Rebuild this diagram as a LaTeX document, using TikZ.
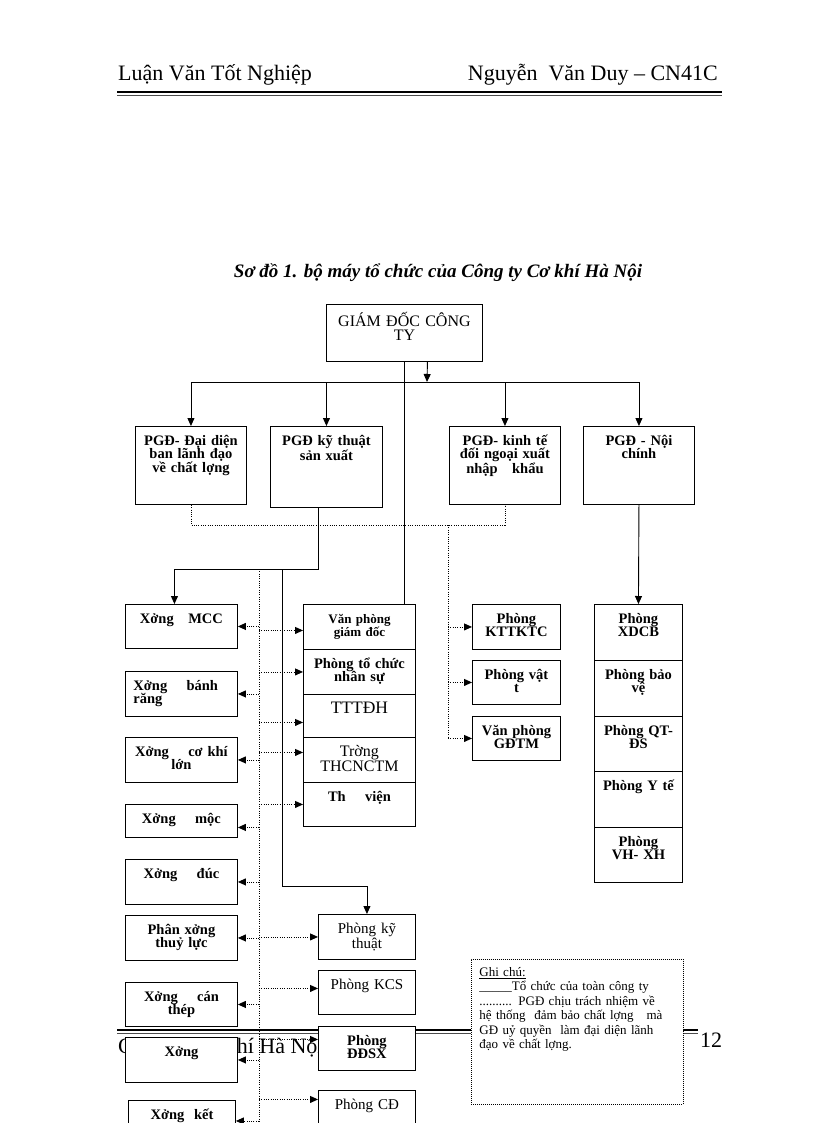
\documentclass[tikz,border=0pt]{standalone}
\usepackage{fontspec}
\setmainfont{Liberation Serif}
\usetikzlibrary{arrows.meta}

\newcommand{\cellfont}{\bfseries\fontsize{14.5}{13.5}\selectfont}
\newcommand{\plainfont}{\fontsize{15}{13.5}\selectfont}
\newcommand{\pagefont}{\fontsize{22}{24}\selectfont}
\newcommand{\notefont}{\fontsize{13}{14.4}\selectfont}

\tikzset{
  cell/.style 2 args={draw, line width=0.9pt, fill=white, anchor=north west, inner xsep=2pt, inner ysep=0pt,
    align=center, text height=19pt, text width=#1, text depth=#2, font=\cellfont},
  note/.style={draw, line width=0.8pt, dash pattern=on 1pt off 1pt, fill=white, anchor=north west,
    inner xsep=8pt, inner ysep=0pt, align=left, text width=196pt, text height=17pt, text depth=128pt, font=\notefont},
  link/.style={line width=0.9pt},
  dots/.style={line width=0.9pt, dash pattern=on 1pt off 1.3pt},
  tip/.style={-{Triangle[length=8pt,width=7pt]}},
}

\begin{document}
\begin{tikzpicture}[x=1pt, y=-1pt]
  \useasboundingbox (0,0) rectangle (816,1123);
  \clip (0,0) rectangle (816,1123);

  % header and footer of the page
  \node[anchor=base west, font=\pagefont, inner sep=0pt] (headl) at (118,81) {Luận Văn Tốt Nghiệp};
  \node[anchor=base east, font=\pagefont, inner sep=0pt] (headr) at (718,81) {Nguyễn~ Văn Duy – CN41C};
  \draw[line width=2.6pt] (117,92) -- (722,92);
  \draw[line width=0.8pt, black!70] (117,95.6) -- (722,95.6);
  \node[anchor=base west, font=\pagefont, inner sep=0pt] (foot) at (118,1053) {Công ty Cơ khí Hà Nội};
  \node[anchor=base west, font=\pagefont, inner sep=0pt] (pageno) at (700,1047) {12};
  \draw[line width=2.6pt] (117,1030) -- (698,1030);
  \draw[line width=0.8pt, black!70] (117,1033.6) -- (698,1033.6);

  \node[anchor=base, font=\bfseries\itshape\fontsize{19}{21}\selectfont, inner sep=0pt] (title) at (438,277)
    {Sơ đồ 1. bộ máy tổ chức của Công ty Cơ khí Hà Nội};

  \node[cell={152pt}{35pt}, font=\fontsize{16}{14}\selectfont, text height=22pt] (gd) at (326,304) {GIÁM ĐỐC CÔNG\\TY};

  \node[cell={107pt}{59pt}] (pgd1) at (135,426) {PGĐ- Đại diện\\ban lãnh đạo\\về chất lợng};
  \node[cell={108pt}{62pt}] (pgd2) at (270,426) {PGĐ kỹ thuật\\sản xuất};
  \node[cell={107pt}{59pt}] (pgd3) at (449,426) {PGĐ- kinh tế\\đối ngoại xuất\\nhập~~ khẩu};
  \node[cell={107pt}{59pt}] (pgd4) at (583,426) {PGĐ - Nội\\chính};

  \node[cell={108pt}{25pt}] (xmcc) at (125,604) {Xởng~~ MCC};
  \node[cell={96pt}{26pt}, align=left, inner xsep=8pt] (xbr) at (125,671) {Xởng~~~ bánh\\răng};
  \node[cell={108pt}{26pt}] (xck) at (125,737) {Xởng~~~ cơ khí\\lớn};
  \node[cell={108pt}{14pt}] (xmoc) at (125,804) {Xởng~~~ mộc};
  \node[cell={108pt}{26pt}] (xduc) at (125,859) {Xởng~~~ đúc};
  \node[cell={108pt}{26pt}] (xtl) at (125,915) {Phân xởng\\thuỷ lực};
  \node[cell={108pt}{25pt}] (xct) at (125,982) {Xởng~~~ cán\\thép};
  \node[cell={108pt}{26pt}] (xx) at (125,1037) {Xởng};
  \node[cell={103pt}{26pt}] (xket) at (128,1100) {Xởng~ kết};

  \node[cell={108pt}{26pt}, font=\bfseries\fontsize{13}{13}\selectfont] (vpgd) at (303,604) {Văn phòng\\giám đốc};
  \node[cell={108pt}{26pt}] (tcns) at (303,649) {Phòng tổ chức\\nhân sự};
  \node[cell={108pt}{24pt}, font=\fontsize{17.5}{14}\selectfont] (tttdh) at (303,694) {TTTĐH};
  \node[cell={108pt}{26pt}, font=\fontsize{16}{13.5}\selectfont] (truong) at (303,737) {Trờng\\THCNCTM};
  \node[cell={108pt}{25pt}] (thvien) at (303,782) {Th~~~ viện};

  \node[cell={93pt}{26pt}, font=\plainfont] (pkt) at (318,914) {Phòng kỹ\\thuật};
  \node[cell={93pt}{25pt}, font=\plainfont] (kcs) at (318,970) {Phòng KCS};
  \node[cell={93pt}{25pt}] (ddsx) at (318,1026) {Phòng\\ĐĐSX};
  \node[cell={93pt}{25pt}, font=\plainfont] (pcd) at (318,1090) {Phòng CĐ};

  \node[cell={84pt}{26pt}] (kttktc) at (472,604) {Phòng\\KTTKTC};
  \node[cell={84pt}{25pt}] (vattu) at (472,660) {Phòng vật\\t};
  \node[cell={84pt}{25pt}] (gdtm) at (472,716) {Văn phòng\\GĐTM};

  \node[cell={84pt}{37pt}] (xdcb) at (594,604) {Phòng\\XDCB};
  \node[cell={84pt}{37pt}] (baove) at (594,660) {Phòng bảo\\vệ};
  \node[cell={84pt}{36pt}] (qtds) at (594,716) {Phòng QT-\\ĐS};
  \node[cell={84pt}{37pt}] (yte) at (594,771) {Phòng Y tế};
  \node[cell={84pt}{36pt}] (vhxh) at (594,827) {Phòng\\VH- XH};

  \node[note] (note) at (471,959) {\underline{Ghi chú:}\\\_\_\_\_\_Tổ chức của toàn công ty\\.......... PGĐ chịu trách nhiệm về\\hệ thống~ đảm bảo chất lợng~~ mà\\GĐ uỷ quyền~ làm đại diện lãnh\\đạo về chất lợng.};

  % junctions
  \coordinate (bar) at (427,382);
  \coordinate (qual) at (448,525);
  \coordinate (kt) at (318,569);
  \coordinate (spine) at (259,569);
  \coordinate (spineend) at (259,1130);
  \coordinate (branch) at (282,569);
  \coordinate (turn) at (282,886);

  % solid lines
  \draw[link, tip] ([xshift=23pt]gd.south) -- (bar);
  \draw[link] (pgd1.north |- bar) -- (pgd4.north |- bar);
  \foreach \n in {pgd1,pgd2,pgd3,pgd4}
    \draw[link, tip] (\n.north |- bar) -- (\n.north);
  \draw[link] (gd.south) -- (gd.south |- vpgd.north);
  \draw[link, tip] (pgd2.south -| kt) -- (kt) -| ([xshift=-7pt]xmcc.north);
  \draw[link, tip] (branch) -- (turn) -| (pkt.north);
  \draw[link, tip] (pgd4.south) -- (xdcb.north);

  % dotted lines
  \draw[dots] (pgd1.south) |- (qual) -| (pgd3.south);
  \draw[dots] (qual) -- (qual |- gdtm.west);
  \foreach \n in {kttktc,vattu,gdtm}
    \draw[dots, tip] (qual |- \n.west) -- (\n.west);
  \draw[dots] (spine) -- (spineend);
  \foreach \n/\dy in {xmcc/0,xbr/0,xck/0,xmoc/-6.5,xduc/0,xtl/0,xct/0,xx/0,xket/2} {
    \path ([yshift=\dy pt]\n.east) coordinate (t);
    \draw[dots, tip] (spine |- t) -- (t);
  }
  \foreach \n/\dy in {vpgd/-3.5,tcns/0,tttdh/-6.5,truong/7.5,thvien/0,pkt/0,kcs/4,ddsx/9,pcd/13} {
    \path ([yshift=\dy pt]\n.west) coordinate (t);
    \draw[dots, tip] (spine |- t) -- (t);
  }
\end{tikzpicture}
\end{document}
